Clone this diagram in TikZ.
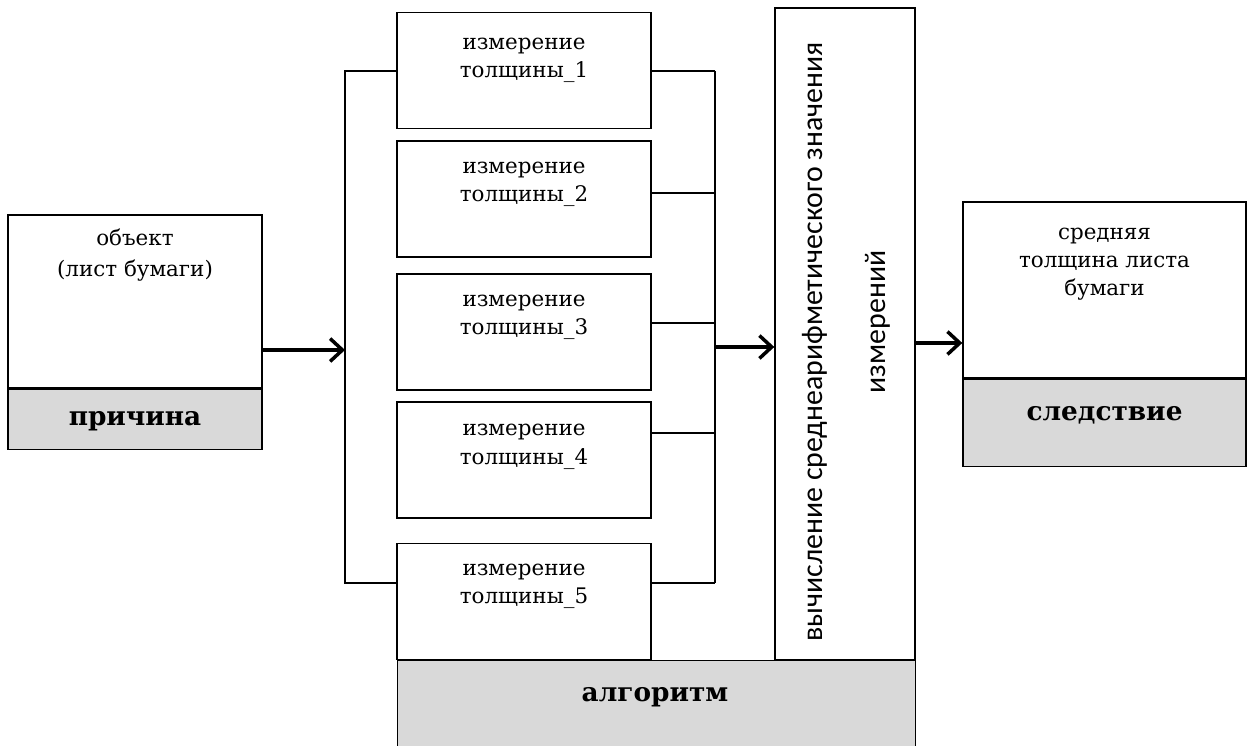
\documentclass[tikz,border=0pt]{standalone}
\usepackage{fontspec}
\setmainfont{DejaVu Serif}
\newfontfamily\calcfont{Carlito}
\usepackage{tikz}
\usetikzlibrary{arrows.meta,positioning,calc}
\usepackage{xcolor}
\definecolor{boxgray}{RGB}{217,217,217}

\begin{document}
\begin{tikzpicture}[x=0.02cm, y=-0.02cm,
    box/.style={draw, line width=0.8pt, fill=white, inner sep=0pt},
    graybox/.style={box, fill=boxgray},
    lbl/.style={align=center, font=\fontsize{12.2}{16}\selectfont, inner sep=0pt},
    boldlbl/.style={font=\fontsize{15}{18}\selectfont\bfseries, inner sep=0pt},
    calclbl/.style={rotate=90, font=\calcfont\fontsize{17}{20}\selectfont, inner sep=0pt},
    wire/.style={line width=0.8pt},
    arr/.style={line width=2pt, -{Straight Barb[length=7pt,width=13pt]}}]

    \useasboundingbox (0,0) rectangle (1247,746);

    % ---------------- Cause ----------------
    \node[box, minimum width=5.08cm, minimum height=3.46cm] (obj) at (135,301.5) {};
    \node[graybox, minimum width=5.08cm, minimum height=1.2cm, below=0pt of obj] (cause) {};
    \node[lbl, font=\fontsize{12.2}{18}\selectfont, below=8pt of obj.north] (objtxt) {объект\\(лист бумаги)};
    \node[boldlbl] (causetxt) at (135,421) {причина};

    % ---------------- Algorithm ----------------
    \node[graybox, minimum width=10.36cm, minimum height=2cm, anchor=north west] (alg) at (397,660) {};
    \node[boldlbl] (algtxt) at (655,697) {алгоритм};

    \foreach \i/\y/\d in {1/70.5/14.5,2/199/12,3/332/12,4/460/13,5/601.5/12} {
        \node[box, minimum width=5.08cm, minimum height=2.32cm] (m\i) at (524,\y) {};
        \node[lbl, below=\d pt of m\i.north] (t\i) {измерение\\толщины\_\i};
    }

    \node[box, minimum width=2.8cm, minimum height=13.04cm] (calc) at (845,334) {};
    \node[calclbl] (calc1) at (815,342) {вычисление среднеарифметического значения};
    \node[calclbl] (calc2) at (878,322) {измерений};

    % ---------------- Brackets ----------------
    \coordinate (ltop) at (345,71);
    \coordinate (lbot) at (345,583);
    \coordinate (rtop) at (715,71);
    \coordinate (rbot) at (715,583);
    \draw[wire] (m1.west |- ltop) -- (ltop) -- (lbot) -- (m5.west |- lbot);
    \draw[wire] (rtop) -- (rbot);
    \foreach \i/\y in {1/71,2/193,3/323,4/433,5/583} {
        \draw[wire] (m\i.east |- 0,\y) -- (rtop |- 0,\y);
    }

    % ---------------- Effect ----------------
    \node[box, minimum width=5.66cm, minimum height=3.52cm] (res) at (1104.5,290) {};
    \node[graybox, minimum width=5.66cm, minimum height=1.74cm, below=0pt of res] (effect) {};
    \node[lbl, below=15pt of res.north] (restxt) {средняя\\толщина листа\\бумаги};
    \node[boldlbl] (effecttxt) at (1104.5,415) {следствие};

    % ---------------- Arrows ----------------
    \draw[arr] (obj.east |- 0,350) -- (ltop |- 0,350);
    \draw[arr] (rtop |- 0,347) -- (calc.west |- 0,347);
    \draw[arr] (calc.east |- 0,343) -- (res.west |- 0,343);

\end{tikzpicture}
\end{document}
